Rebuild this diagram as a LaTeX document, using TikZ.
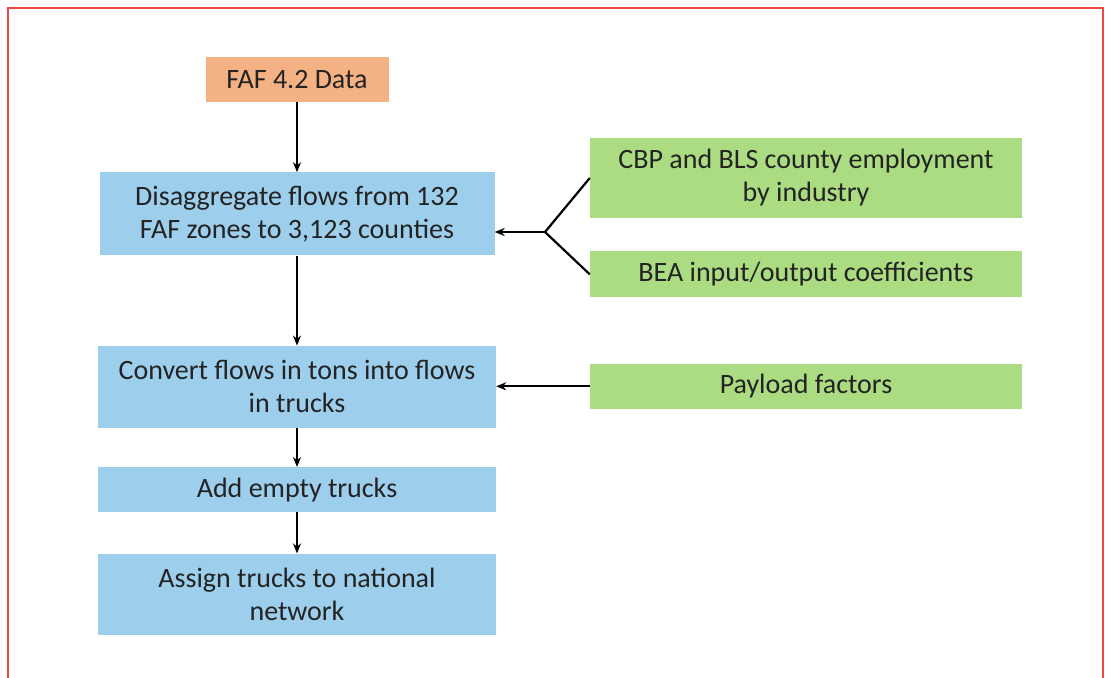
\documentclass[tikz,border=0pt]{standalone}
\usepackage{fontspec}
\setmainfont{Carlito}
\usepackage{xcolor}
\definecolor{fafor}{RGB}{244,177,131}
\definecolor{stepblue}{RGB}{157,206,236}
\definecolor{inpgreen}{RGB}{172,220,130}
\definecolor{txtgray}{RGB}{35,35,35}
\definecolor{framered}{RGB}{240,70,70}
\usetikzlibrary{positioning, arrows.meta}

\begin{document}
\begin{tikzpicture}
[x=1pt, y=-1pt,
 >={Stealth[length=10pt,width=8pt]},
 every node/.style={font=\fontsize{28}{33}\selectfont, text=txtgray,
 align=center, inner sep=0pt},
 source/.style={fill=fafor, minimum width=183pt, minimum height=45pt},
 process/.style={fill=stepblue, minimum width=398pt},
 input/.style={fill=inpgreen, minimum width=432pt},
 link/.style={->, line width=2.2pt},
]

\useasboundingbox (0,0) rectangle (1110,677);
\draw[framered, line width=1.5pt] (8,690) |- (1103,8) -- (1103,690);

% main chain
\node[source] at (297,79.5) (faf) {FAF 4.2 Data};
\node[process, minimum width=395pt, minimum height=83pt, below=70pt of faf] (dis) {Disaggregate flows from 132\\FAF zones to 3,123 counties};
\node[process, minimum height=82pt, below=90pt of dis] (conv) {Convert flows in tons into flows\\in trucks};
\node[process, minimum height=45pt, below=39pt of conv] (empty) {Add empty trucks};
\node[process, minimum height=81pt, below=41pt of empty] (assign) {Assign trucks to national\\network};

% inputs
\node[input, minimum height=80pt] at (806,178) (cbp) {CBP and BLS county employment\\by industry};
\node[input, minimum height=46pt, below=33pt of cbp] (bea) {BEA input/output coefficients};
\node[input, minimum height=45pt, below=66pt of bea] (pay) {Payload factors};

\coordinate (fork) at (545,232);

\draw[link] (faf) -- (dis);
\draw[link] (dis) -- (conv);
\draw[link] (conv) -- (empty);
\draw[link] (empty) -- (assign);

\draw[line width=2.2pt] (cbp.west) -- (fork) -- (bea.west);
\draw[link] (fork) -- (fork -| dis.east);
\draw[link] (pay.west) -- (pay.west -| conv.east);
\end{tikzpicture}
\end{document}
